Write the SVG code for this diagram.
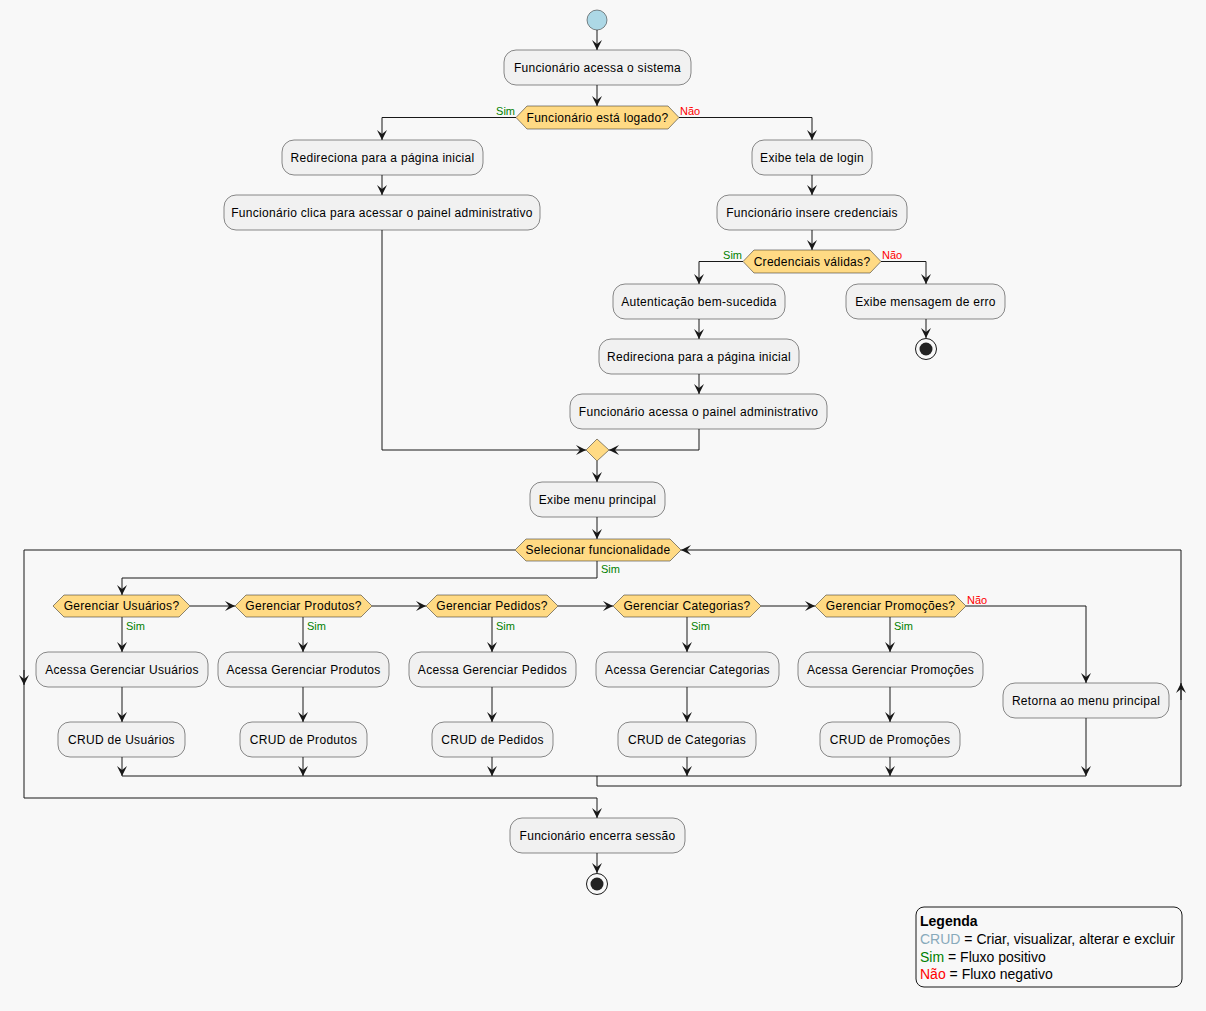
<svg xmlns="http://www.w3.org/2000/svg" width="1206" height="1011" viewBox="0 0 1206 1011">
  <defs>
    <marker id="arrow" viewBox="0 0 10 10" refX="10" refY="5" markerWidth="10" markerHeight="10" markerUnits="userSpaceOnUse" orient="auto">
      <path d="M10,5 L0,0 L4,5 L0,10 Z" fill="#181818"/>
    </marker>
    <style>
      .act rect { fill: #F1F1F1; stroke: #181818; stroke-width: 0.5; }
      .act text, .dec text { font-family: "Liberation Sans", Arial, sans-serif; font-size: 12px; letter-spacing: 0.3px; fill: #000; text-anchor: middle; }
      .dec polygon { fill: #FFDA84; stroke: #181818; stroke-width: 0.5; }
      .flow path { fill: none; stroke: #181818; stroke-width: 1; }
      .flow path.a { marker-end: url(#arrow); }
      .lbl { font-family: "Liberation Sans", Arial, sans-serif; font-size: 11px; }
      .yes { fill: #008000; }
      .no { fill: #FF0000; }
      .leg { font-family: "Liberation Sans", Arial, sans-serif; font-size: 14px; fill: #000; }
    </style>
  </defs>
  <rect width="1206" height="1011" fill="#F8F8F8"/>

  <!-- connectors -->
  <g id="connectors" class="flow">
    <path class="a" d="M597,30 V50"/>
    <path class="a" d="M597,85 V106"/>
    <path class="a" d="M516,117.5 H382 V140"/>
    <path class="a" d="M679,117.5 H812 V140"/>
    <path class="a" d="M382,175 V195"/>
    <path class="a" d="M812,175 V195"/>
    <path class="a" d="M812,230 V250"/>
    <path class="a" d="M743,261.5 H699 V284"/>
    <path class="a" d="M881,261.5 H926 V284"/>
    <path class="a" d="M699,319 V339"/>
    <path class="a" d="M699,374 V394"/>
    <path class="a" d="M926,319 V338"/>
    <path class="a" d="M382,230 V450 H586"/>
    <path class="a" d="M699,429 V450 H609"/>
    <path class="a" d="M597,461 V482"/>
    <path class="a" d="M597,517 V539"/>
    <path class="a" d="M597,561 V578 H122 V595"/>
    <path class="a" d="M190,606 H235"/>
    <path class="a" d="M372,606 H426"/>
    <path class="a" d="M558,606 H613"/>
    <path class="a" d="M761,606 H815"/>
    <path class="a" d="M966,606 H1086 V683"/>
    <path class="a" d="M122,617 V652"/>
    <path class="a" d="M303,617 V652"/>
    <path class="a" d="M492,617 V652"/>
    <path class="a" d="M687,617 V652"/>
    <path class="a" d="M890,617 V652"/>
    <path class="a" d="M122,687 V722"/>
    <path class="a" d="M303,687 V722"/>
    <path class="a" d="M492,687 V722"/>
    <path class="a" d="M687,687 V722"/>
    <path class="a" d="M890,687 V722"/>
    <path class="a" d="M122,757 V776"/>
    <path class="a" d="M303,757 V776"/>
    <path class="a" d="M492,757 V776"/>
    <path class="a" d="M687,757 V776"/>
    <path class="a" d="M890,757 V776"/>
    <path class="a" d="M1086,718 V776"/>
    <path d="M122,776 H1086"/>
    <!-- repeat loop back to the menu selection -->
    <path class="a" d="M597,776 V786 H1181 V550 H681"/>
    <path class="a" d="M1181,700 V683"/>
    <!-- exit path of the loop -->
    <path class="a" d="M515,550 H24 V798 H597 V818"/>
    <path class="a" d="M24,670 V685"/>
    <path class="a" d="M597,853 V873"/>
  </g>

  <!-- start / end -->
  <g id="start"><circle cx="597" cy="20" r="10" fill="#ADD8E6" stroke="#181818" stroke-width="0.5"/></g>
  <g id="stop-error"><circle cx="926" cy="349" r="10.5" fill="none" stroke="#181818" stroke-width="1"/><circle cx="926" cy="349" r="6.5" fill="#222"/></g>
  <g id="stop-end"><circle cx="597" cy="884" r="10.5" fill="none" stroke="#181818" stroke-width="1"/><circle cx="597" cy="884" r="6.5" fill="#222"/></g>

  <!-- activities -->
  <g id="acessa-sistema" class="act"><rect x="504" y="50" width="187" height="35" rx="12"/><text x="597.5" y="71.5">Funcionário acessa o sistema</text></g>
  <g id="redireciona-1" class="act"><rect x="282" y="140" width="201" height="35" rx="12"/><text x="382.5" y="161.5">Redireciona para a página inicial</text></g>
  <g id="clica-painel" class="act"><rect x="224" y="195" width="316" height="35" rx="12"/><text x="382" y="216.5">Funcionário clica para acessar o painel administrativo</text></g>
  <g id="tela-login" class="act"><rect x="752" y="140" width="120" height="35" rx="12"/><text x="812" y="161.5">Exibe tela de login</text></g>
  <g id="insere-credenciais" class="act"><rect x="717" y="195" width="190" height="35" rx="12"/><text x="812" y="216.5">Funcionário insere credenciais</text></g>
  <g id="autenticacao" class="act"><rect x="613" y="284" width="172" height="35" rx="12"/><text x="699" y="305.5">Autenticação bem-sucedida</text></g>
  <g id="redireciona-2" class="act"><rect x="599" y="339" width="200" height="35" rx="12"/><text x="699" y="360.5">Redireciona para a página inicial</text></g>
  <g id="acessa-painel" class="act"><rect x="570" y="394" width="257" height="35" rx="12"/><text x="698.5" y="415.5">Funcionário acessa o painel administrativo</text></g>
  <g id="mensagem-erro" class="act"><rect x="846" y="284" width="159" height="35" rx="12"/><text x="925.5" y="305.5">Exibe mensagem de erro</text></g>
  <g id="menu-principal" class="act"><rect x="530" y="482" width="135" height="35" rx="12"/><text x="597.5" y="503.5">Exibe menu principal</text></g>

  <g id="acessa-usuarios" class="act"><rect x="36" y="652" width="172" height="35" rx="12"/><text x="122" y="673.5">Acessa Gerenciar Usuários</text></g>
  <g id="acessa-produtos" class="act"><rect x="218" y="652" width="171" height="35" rx="12"/><text x="303.5" y="673.5">Acessa Gerenciar Produtos</text></g>
  <g id="acessa-pedidos" class="act"><rect x="409" y="652" width="167" height="35" rx="12"/><text x="492.5" y="673.5">Acessa Gerenciar Pedidos</text></g>
  <g id="acessa-categorias" class="act"><rect x="596" y="652" width="183" height="35" rx="12"/><text x="687.5" y="673.5">Acessa Gerenciar Categorias</text></g>
  <g id="acessa-promocoes" class="act"><rect x="798" y="652" width="185" height="35" rx="12"/><text x="890.5" y="673.5">Acessa Gerenciar Promoções</text></g>

  <g id="crud-usuarios" class="act"><rect x="58" y="722" width="127" height="35" rx="12"/><text x="121.5" y="743.5">CRUD de Usuários</text></g>
  <g id="crud-produtos" class="act"><rect x="240" y="722" width="127" height="35" rx="12"/><text x="303.5" y="743.5">CRUD de Produtos</text></g>
  <g id="crud-pedidos" class="act"><rect x="432" y="722" width="121" height="35" rx="12"/><text x="492.5" y="743.5">CRUD de Pedidos</text></g>
  <g id="crud-categorias" class="act"><rect x="618" y="722" width="138" height="35" rx="12"/><text x="687" y="743.5">CRUD de Categorias</text></g>
  <g id="crud-promocoes" class="act"><rect x="820" y="722" width="140" height="35" rx="12"/><text x="890" y="743.5">CRUD de Promoções</text></g>
  <g id="retorna-menu" class="act"><rect x="1003" y="683" width="166" height="35" rx="12"/><text x="1086" y="704.5">Retorna ao menu principal</text></g>

  <g id="encerra-sessao" class="act"><rect x="510" y="818" width="175" height="35" rx="12"/><text x="597.5" y="839.5">Funcionário encerra sessão</text></g>

  <!-- decisions -->
  <g id="esta-logado" class="dec"><polygon points="516,117.5 527,106 668,106 679,117.5 668,129 527,129"/><text x="597.5" y="121.5">Funcionário está logado?</text></g>
  <g id="credenciais-validas" class="dec"><polygon points="743,261.5 754,250 870,250 881,261.5 870,273 754,273"/><text x="812" y="265.5">Credenciais válidas?</text></g>
  <g id="merge" class="dec"><polygon points="597,439 609,450 597,461 586,450"/></g>
  <g id="selecionar" class="dec"><polygon points="515,550 526,539 670,539 681,550 670,561 526,561"/><text x="598" y="554">Selecionar funcionalidade</text></g>
  <g id="ger-usuarios" class="dec"><polygon points="53,606 64,595 179,595 190,606 179,617 64,617"/><text x="121.5" y="610">Gerenciar Usuários?</text></g>
  <g id="ger-produtos" class="dec"><polygon points="235,606 246,595 361,595 372,606 361,617 246,617"/><text x="303.5" y="610">Gerenciar Produtos?</text></g>
  <g id="ger-pedidos" class="dec"><polygon points="426,606 437,595 547,595 558,606 547,617 437,617"/><text x="492" y="610">Gerenciar Pedidos?</text></g>
  <g id="ger-categorias" class="dec"><polygon points="613,606 624,595 750,595 761,606 750,617 624,617"/><text x="687" y="610">Gerenciar Categorias?</text></g>
  <g id="ger-promocoes" class="dec"><polygon points="815,606 826,595 955,595 966,606 955,617 826,617"/><text x="890.5" y="610">Gerenciar Promoções?</text></g>

  <!-- branch labels -->
  <g id="branch-labels" class="lbl">
    <text class="yes" x="515" y="115" text-anchor="end">Sim</text>
    <text class="no" x="680" y="115">Não</text>
    <text class="yes" x="742" y="259" text-anchor="end">Sim</text>
    <text class="no" x="882" y="259">Não</text>
    <text class="yes" x="601" y="573">Sim</text>
    <text class="yes" x="126" y="630">Sim</text>
    <text class="yes" x="307" y="630">Sim</text>
    <text class="yes" x="496" y="630">Sim</text>
    <text class="yes" x="691" y="630">Sim</text>
    <text class="yes" x="894" y="630">Sim</text>
    <text class="no" x="967" y="604">Não</text>
  </g>

  <!-- legend -->
  <g id="legenda">
    <rect x="916" y="907" width="266" height="80" rx="8" fill="#F8F8F8" stroke="#181818" stroke-width="1"/>
    <text class="leg" x="920" y="926" font-weight="bold">Legenda</text>
    <text class="leg" x="920" y="944"><tspan fill="#88AABB">CRUD</tspan> = Criar, visualizar, alterar e excluir</text>
    <text class="leg" x="920" y="962"><tspan fill="#008000">Sim</tspan> = Fluxo positivo</text>
    <text class="leg" x="920" y="979"><tspan fill="#FF0000">Não</tspan> = Fluxo negativo</text>
  </g>
</svg>
